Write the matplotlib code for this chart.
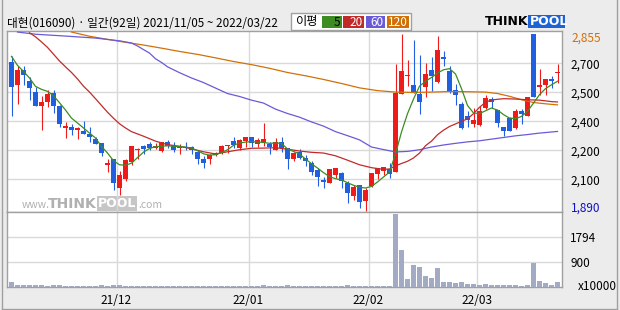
import numpy as np
import matplotlib
matplotlib.use('Agg')
import matplotlib.pyplot as plt
from matplotlib.patches import Rectangle
from matplotlib.lines import Line2D

plt.rcParams['font.family'] = ['Noto Sans CJK KR', 'DejaVu Sans']

# --- daily candles, 2021/11/05 ~ 2022/03/22 (92 trading days) ---
opens = [2700, 2575, 2660, 2600, 2540, 2460, 2485, 2535, 2460, 2340,
         2345, 2330, 2325, 2310, 2280, 2260, 2140, 2170, 2015, 2065,
         2155, 2220, 2245, 2255, 2235, 2215, 2265, 2245, 2230, 2240,
         2240, 2210, 2175, 2170, 2195, 2205, 2245, 2270, 2230, 2270,
         2295, 2255, 2265, 2255, 2220, 2265, 2230, 2170, 2210, 2180,
         2150, 2110, 2060, 2040, 2085, 2095, 2040, 1970, 2030, 1945,
         2025, 2090, 2105, 2120, 2100, 2530, 2625, 2575, 2530, 2565,
         2660, 2595, 2730, 2655, 2550, 2475, 2405, 2365, 2360, 2450,
         2500, 2440, 2345, 2395, 2340, 2435, 2405, 2855, 2565, 2575,
         2610, 2640]
highs = [2735, 2680, 2680, 2620, 2565, 2515, 2550, 2550, 2465, 2375,
         2365, 2350, 2380, 2345, 2295, 2260, 2170, 2175, 2105, 2170,
         2245, 2230, 2250, 2265, 2260, 2265, 2275, 2265, 2255, 2265,
         2245, 2220, 2190, 2200, 2210, 2250, 2250, 2295, 2280, 2295,
         2295, 2285, 2370, 2265, 2285, 2295, 2230, 2210, 2225, 2195,
         2160, 2125, 2075, 2120, 2125, 2100, 2055, 2030, 2030, 2015,
         2095, 2125, 2130, 2150, 2690, 2855, 2715, 2820, 2740, 2695,
         2730, 2845, 2760, 2680, 2580, 2485, 2435, 2450, 2460, 2520,
         2510, 2440, 2345, 2400, 2445, 2445, 2510, 2855, 2665, 2610,
         2625, 2690]
lows = [2405, 2475, 2575, 2495, 2460, 2330, 2455, 2425, 2345, 2285,
        2305, 2280, 2310, 2265, 2255, 2190, 2100, 2005, 1975, 2055,
        2140, 2175, 2200, 2220, 2225, 2210, 2230, 2210, 2200, 2220,
        2200, 2145, 2125, 2145, 2190, 2200, 2205, 2235, 2220, 2240,
        2240, 2240, 2245, 2200, 2220, 2210, 2120, 2160, 2175, 2135,
        2085, 2025, 2015, 2040, 2070, 2015, 1930, 1950, 1905, 1890,
        2020, 2065, 2085, 2070, 2100, 2525, 2570, 2535, 2420, 2510,
        2545, 2590, 2680, 2535, 2465, 2335, 2345, 2350, 2355, 2445,
        2450, 2345, 2300, 2325, 2335, 2365, 2405, 2510, 2520, 2520,
        2560, 2585]
closes = [2565, 2660, 2630, 2560, 2460, 2485, 2530, 2460, 2365, 2355,
          2330, 2340, 2310, 2295, 2255, 2205, 2150, 2040, 2085, 2165,
          2245, 2225, 2225, 2235, 2245, 2265, 2245, 2220, 2240, 2230,
          2220, 2175, 2150, 2195, 2205, 2245, 2250, 2250, 2275, 2295,
          2260, 2275, 2280, 2240, 2265, 2235, 2170, 2205, 2180, 2160,
          2100, 2075, 2045, 2120, 2125, 2050, 1985, 2020, 1940, 2005,
          2095, 2125, 2130, 2090, 2535, 2655, 2630, 2540, 2485, 2635,
          2625, 2770, 2720, 2540, 2520, 2340, 2385, 2385, 2435, 2505,
          2485, 2370, 2325, 2325, 2435, 2420, 2510, 2510, 2575, 2610,
          2600, 2645]
# volume, x10000 shares
volumes = [190, 70, 70, 70, 70, 70, 40, 75, 75, 40,
           40, 40, 40, 40, 40, 75, 40, 80, 75, 40,
           40, 40, 40, 40, 40, 40, 40, 40, 40, 40,
           40, 40, 40, 40, 40, 40, 40, 40, 40, 40,
           40, 40, 80, 40, 40, 40, 70, 40, 40, 40,
           40, 40, 40, 40, 40, 40, 70, 40, 40, 40,
           40, 40, 40, 40, 2636, 1340, 296, 800, 728, 404,
           332, 692, 188, 188, 152, 188, 116, 116, 80, 116,
           80, 80, 80, 80, 80, 56, 80, 872, 224, 152,
           80, 188]

# moving averages (day index -> price)
ma5_vals = [2733, 2684, 2651, 2615, 2569, 2553, 2542, 2518, 2480, 2440,
            2396, 2369, 2342, 2314, 2287, 2241, 2205, 2163, 2141, 2138,
            2150, 2180, 2210, 2230, 2240, 2242, 2245, 2242, 2240, 2238,
            2232, 2218, 2201, 2194, 2196, 2207, 2223, 2247, 2260, 2265,
            2267, 2265, 2263, 2258, 2260, 2258, 2227, 2214, 2200, 2172,
            2147, 2123, 2098, 2076, 2065, 2058, 2043, 2029, 2018, 2014,
            2023, 2047, 2074, 2101, 2200, 2320, 2420, 2500, 2570, 2597,
            2618, 2642, 2660, 2666, 2637, 2557, 2465, 2424, 2420, 2436,
            2451, 2440, 2415, 2396, 2393, 2405, 2433, 2478, 2524, 2557,
            2578, 2597]
ma20_days = [3, 4, 5, 6, 7, 8, 9, 10, 11, 12, 13, 14, 15, 16, 17, 18, 19, 20,
             22, 24, 26, 28, 30, 32, 34, 36, 38, 40, 42, 44, 46, 48, 50, 52, 54,
             56, 58, 60, 62, 63, 64, 65, 66, 67, 68, 69, 70, 71, 72, 73, 74, 75,
             76, 77, 78, 79, 80, 82, 84, 86, 88, 90, 91]
ma20_vals = [2862, 2840, 2812, 2782, 2745, 2708, 2676, 2645, 2610, 2570, 2538,
             2502, 2465, 2428, 2395, 2365, 2342, 2322,
             2297, 2270, 2251, 2242, 2228, 2212, 2200, 2212, 2223, 2231, 2232,
             2234, 2226, 2216, 2209, 2205, 2190, 2166, 2141, 2125, 2116,
             2118, 2135, 2148, 2160, 2178, 2205, 2245, 2270, 2305, 2330, 2350,
             2364, 2378, 2392, 2420, 2455, 2482, 2495,
             2502, 2500, 2496, 2494, 2486, 2484]
ma60_days = [1, 4, 9, 14, 18, 20, 21, 22, 23, 24, 25, 26, 28, 30, 32, 34, 36,
             38, 40, 42, 44, 46, 48, 50, 52, 54, 56, 58, 60, 62, 64, 66, 68, 70,
             72, 74, 76, 78, 80, 82, 84, 86, 88, 91]
ma60_vals = [2866, 2854, 2844, 2833, 2818, 2806, 2790, 2770, 2751, 2720, 2700,
             2676, 2644, 2615, 2590, 2560, 2530, 2514, 2494, 2478, 2445, 2421,
             2401, 2375, 2352, 2322, 2300, 2277, 2238, 2224, 2211, 2214, 2223,
             2238, 2249, 2258, 2266, 2272, 2281, 2290, 2299, 2306, 2314, 2323]
ma120_days = [10, 13, 16, 19, 22, 25, 28, 31, 34, 37, 40, 43, 46, 49, 52, 55,
              58, 61, 64, 67, 70, 73, 76, 79, 81, 83, 85, 87, 89, 91]
ma120_vals = [2866, 2843, 2826, 2810, 2795, 2778, 2760, 2744, 2725, 2705, 2688,
              2668, 2645, 2627, 2607, 2585, 2561, 2546, 2538, 2536, 2538, 2541,
              2540, 2538, 2530, 2515, 2496, 2481, 2474, 2468]

month_first_day = [18, 40, 60, 78]
month_labels = ['21/12', '22/01', '22/02', '22/03']
price_ticks = [2695, 2537, 2378, 2220, 2062]
price_tick_labels = ['2,700', '2,500', '2,400', '2,200', '2,100']
vol_ticks = [897, 1794]
vol_tick_labels = ['900', '1794']

RED = '#EE1B1B'
BLUE = '#1F5FE0'
C5, C20, C60, C120 = '#3C8C22', '#C22A2A', '#6A5AD8', '#D27008'
GRID = '#D9D9D9'
FRAME = '#A0A0A0'

W, H = 620, 310


def fx(x):
    return x / W


def fy(y):
    return 1 - y / H


fig = plt.figure(figsize=(6.2, 3.1), dpi=100, facecolor='#ECECEC')
ax = fig.add_axes([fx(7), fy(212), fx(562) - fx(7), fy(31.3) - fy(212)])
axv = fig.add_axes([fx(7), fy(287.3), fx(562) - fx(7), fy(212) - fy(287.3)])

days = np.arange(len(closes))
o, h, l, c = (np.array(a) for a in (opens, highs, lows, closes))
cols = np.where(c > o, RED, BLUE)

# candles
ax.vlines(days, l, h, colors=cols, lw=0.8, zorder=2)
ax.bar(days, np.maximum(np.abs(c - o), 5), bottom=np.minimum(o, c), width=0.83,
       color=cols, lw=0, zorder=3)

# moving averages
ax.plot(ma120_days, ma120_vals, color=C120, lw=0.9, zorder=4)
ax.plot(ma60_days, ma60_vals, color=C60, lw=0.9, zorder=4)
ax.plot(ma20_days, ma20_vals, color=C20, lw=0.9, zorder=4)
ax.plot(days, ma5_vals, color=C5, lw=0.9, zorder=5)

# volume
axv.bar(days, volumes, width=0.83, color='#A3AAC3', lw=0, zorder=3)

grid_x = [d - 0.5 for d in month_first_day]
for a in (ax, axv):
    a.set_xlim(-0.75, 91.75)
    a.set_facecolor('white')
    a.set_axisbelow(True)
    a.grid(color=GRID, lw=1)
    a.set_xticks(grid_x)
    a.yaxis.tick_right()
    a.tick_params(length=0, labelsize=8.5, pad=6, colors='black')
    for s in a.spines.values():
        s.set_color(FRAME)
        s.set_linewidth(1)

ax.set_ylim(1883, 2870)
ax.set_yticks(price_ticks, price_tick_labels)
ax.tick_params(axis='x', labelbottom=False)

axv.set_ylim(0, 2697)
axv.set_yticks(vol_ticks, vol_tick_labels)
axv.set_xticks(grid_x, month_labels)
axv.tick_params(axis='x', pad=5)

# high / low markers on the price scale
ax.annotate('2,855', xy=(1, max(highs)), xycoords=('axes fraction', 'data'),
            xytext=(9, -4), textcoords='offset pixels', va='center',
            fontsize=8.5, color='#D0700A')
ax.annotate('1,890', xy=(1, min(lows)), xycoords=('axes fraction', 'data'),
            xytext=(9, 3), textcoords='offset pixels', va='center',
            fontsize=8.5, color='#1010C8')
fig.text(fx(617), fy(287), 'x10000', ha='right', va='center', fontsize=8.5)

# watermark
wm = '#B0B0B0'
ax.text(fx(22), fy(205), 'www.', transform=fig.transFigure, fontsize=7.5,
        color=wm, va='center', zorder=0.5)
ax.text(fx(48), fy(203.5), 'THINK', transform=fig.transFigure, fontsize=10,
        fontweight='bold', family='DejaVu Sans', color=wm, va='center', zorder=0.5)
ax.add_artist(Rectangle((fx(97), fy(211)), fx(40), 15 / H, transform=fig.transFigure,
                        color='#C6C6C6', lw=0, zorder=0.4))
ax.text(fx(117), fy(203.5), 'POOL', transform=fig.transFigure, fontsize=9,
        fontweight='bold', family='DejaVu Sans', color='white', ha='center',
        va='center', zorder=0.5)
ax.text(fx(138), fy(205), '.com', transform=fig.transFigure, fontsize=7.5,
        color=wm, va='center', zorder=0.5)

# header
fig.text(fx(7), fy(23), '대현(016090) · 일간(92일) 2021/11/05 ~ 2022/03/22',
         fontsize=8.4, va='center')

fig.patches.append(Rectangle((fx(291), fy(30)), fx(120), 17.3 / H, transform=fig.transFigure,
                             facecolor='white', edgecolor=FRAME, lw=1))
fig.text(fx(307), fy(21.5), '이평', fontsize=8.8, ha='center', va='center')
legend_boxes = [(322, 342, C5, '5', 'black'), (343, 364, C20, '20', 'white'),
                (366, 385, C60, '60', 'white'), (387, 409, C120, '120', 'white')]
for x0, x1, col, lab, tc in legend_boxes:
    fig.patches.append(Rectangle((fx(x0), fy(28)), fx(x1 - x0), 12 / H,
                                 transform=fig.transFigure, color=col, lw=0))
    fig.text(fx(x1 - 1.5), fy(22), lab, fontsize=8.5, ha='right', va='center', color=tc)

# logo
fig.text(fx(485), fy(21.5), 'THINK', fontsize=9, fontweight='bold',
         family='DejaVu Sans', va='center')
fig.patches.append(Rectangle((fx(528), fy(27.5)), fx(37), 12.5 / H,
                             transform=fig.transFigure, color='#1E62D6', lw=0))
fig.text(fx(529.5), fy(21.5), 'POOL', fontsize=9, fontweight='bold',
         family='DejaVu Sans', va='center', color='white')

# outer frame
for xs, ys in [((2, 2), (0, 308.5)), ((617, 617), (0, 308.5)), ((2, 617), (308.5, 308.5))]:
    fig.add_artist(Line2D([fx(v) for v in xs], [fy(v) for v in ys], color=FRAME, lw=1))

plt.savefig('out.png', dpi=100, facecolor=fig.get_facecolor())
